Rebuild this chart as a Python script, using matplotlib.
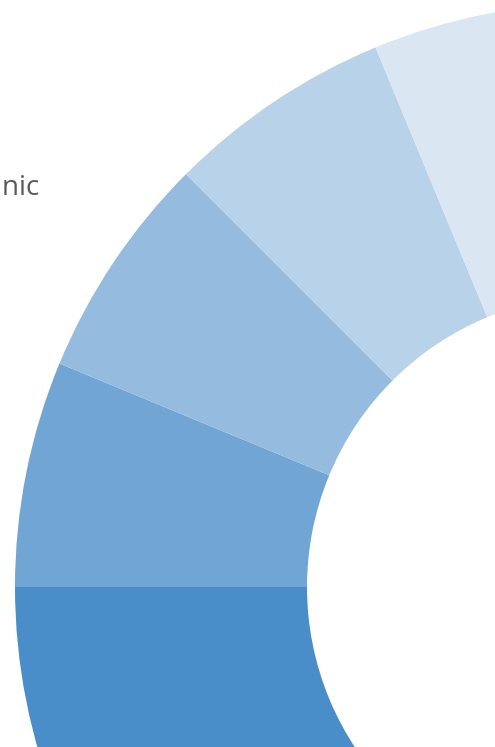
import matplotlib
matplotlib.use("Agg")
import matplotlib.pyplot as plt

# slices of a ring; only part of it is inside the frame
slices = ["s1", "s2", "s3", "s4", "s5", "s6", "s7", "s8",
          "s9", "s10", "s11", "s12", "s13", "s14", "s15"]
values = [2, 1, 1, 1, 1, 1, 1, 1, 1, 1, 1, 1, 1, 1, 1]
colors = ["#4a8ec9", "#70a5d4", "#95bbdf", "#b8d2e9", "#dbe6f3",
          "#dbe6f3", "#b8d2e9", "#95bbdf", "#70a5d4", "#4a8ec9",
          "#70a5d4", "#95bbdf", "#b8d2e9", "#dbe6f3", "#95bbdf"]
label_text = "Hispanic"

W, H = 495, 747
fig = plt.figure(figsize=(W / 100, H / 100), dpi=100)
ax = fig.add_axes([0, 0, 1, 1])

cx, cy = 599, H - 587
R = 584
ax.pie(values, colors=colors, center=(cx, cy), radius=R,
       startangle=225, counterclock=False,
       wedgeprops=dict(width=R / 2, linewidth=0))
ax.set_xlim(0, W)
ax.set_ylim(0, H)
ax.set_aspect("equal")
ax.axis("off")

ax.text(40, H - 195, label_text, ha="right", va="baseline",
        fontsize=20, color="#595959", family="Open Sans")

fig.savefig("out.png", dpi=100)
